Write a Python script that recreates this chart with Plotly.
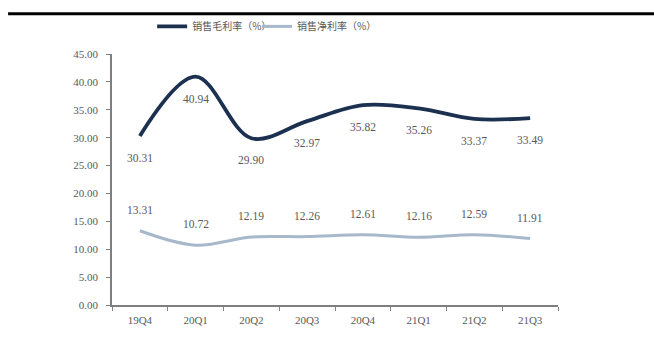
import plotly.graph_objects as go

# Quarterly margin data
quarters = ["19Q4", "20Q1", "20Q2", "20Q3", "20Q4", "21Q1", "21Q2", "21Q3"]
gross_margin = [30.31, 40.94, 29.90, 32.97, 35.82, 35.26, 33.37, 33.49]
net_margin = [13.31, 10.72, 12.19, 12.26, 12.61, 12.16, 12.59, 11.91]
y_ticks = [0, 5, 10, 15, 20, 25, 30, 35, 40, 45]

gross_name = "销售毛利率（%）"
net_name = "销售净利率（%）"

gross_color = "#1c3150"
net_color = "#a8b8cb"
text_color = "#595959"
axis_color = "#7f7f7f"
label_font = dict(family="Liberation Serif", size=11.5, color=text_color)

fig = go.Figure()
fig.add_trace(go.Scatter(
    x=quarters, y=gross_margin, name=gross_name, mode="lines",
    line=dict(color=gross_color, width=3.8, shape="spline", smoothing=1.0),
    legend="legend",
))
fig.add_trace(go.Scatter(
    x=quarters, y=net_margin, name=net_name, mode="lines",
    line=dict(color=net_color, width=3, shape="spline", smoothing=1.0),
    legend="legend2",
))

# Value labels: gross margin below the line, net margin above it
for q, v in zip(quarters, gross_margin):
    fig.add_annotation(x=q, y=v, text=f"{v:.2f}", showarrow=False,
                       yshift=-22, font=label_font)
for q, v in zip(quarters, net_margin):
    fig.add_annotation(x=q, y=v, text=f"{v:.2f}", showarrow=False,
                       yshift=21, font=label_font)

# Heavy rule across the top of the figure
fig.add_shape(type="line", xref="paper", yref="paper",
              x0=-0.233, x1=1.22, y0=1.16, y1=1.16,
              line=dict(color="#000000", width=3))

legend_common = dict(orientation="h", y=1.11, xanchor="left", yanchor="middle",
                     font=dict(family="Noto Sans CJK SC", size=10, color=text_color),
                     bgcolor="rgba(0,0,0,0)", itemwidth=30)

fig.update_layout(
    width=654, height=342,
    margin=dict(l=112, r=96, t=48, b=37),
    paper_bgcolor="white", plot_bgcolor="white",
    showlegend=True,
    legend=dict(x=0.09, **legend_common),
    legend2=dict(x=0.325, **legend_common),
    xaxis=dict(type="category", range=[-0.5, 7.5], showgrid=False,
               showline=True, linecolor=axis_color, linewidth=1.5,
               ticks="outside", ticklen=4, tickcolor=axis_color, tickson="boundaries",
               ticklabelstandoff=4,
               tickfont=dict(family="Liberation Serif", size=11, color=text_color)),
    yaxis=dict(range=[0, 45], tickvals=y_ticks, tickformat=".2f", showgrid=False,
               showline=True, linecolor=axis_color, linewidth=1.5,
               ticks="outside", ticklen=4, tickcolor=axis_color, zeroline=False,
               ticklabelstandoff=6,
               tickfont=dict(family="Liberation Serif", size=11, color=text_color)),
)

fig.write_html("out.html")
